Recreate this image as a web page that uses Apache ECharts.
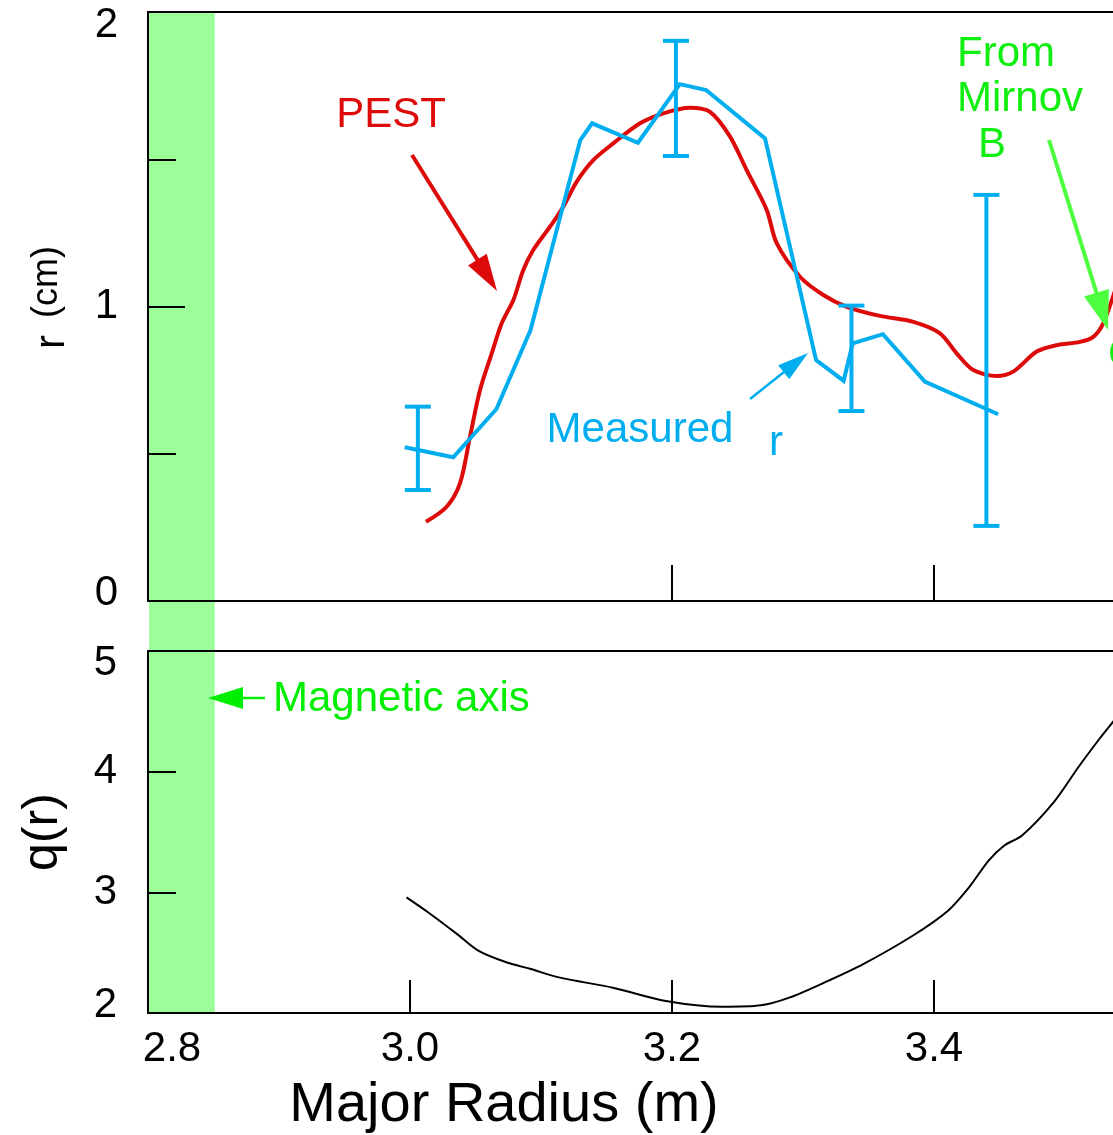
<!DOCTYPE html>
<html>
<head>
<meta charset="utf-8">
<script src="https://cdn.jsdelivr.net/npm/echarts@6/dist/echarts.min.js"></script>
<style>
html,body{margin:0;padding:0;background:#ffffff;}
#chart{width:1113px;height:1135px;}
</style>
</head>
<body>
<div id="chart"></div>
<script>
// ---------------- data ----------------
// PEST computed island width r(cm) vs major radius (m)
const pestR = [
  [3.0122,0.269],[3.0280,0.320],[3.0382,0.400],[3.0458,0.558],[3.0534,0.716],
  [3.0624,0.841],[3.0700,0.943],[3.0789,1.022],[3.0865,1.124],[3.0941,1.192],
  [3.1069,1.271],[3.1170,1.339],[3.1273,1.424],[3.1399,1.497],[3.1552,1.554],
  [3.1756,1.622],[3.1934,1.656],[3.2137,1.675],[3.2290,1.661],[3.2443,1.577],
  [3.2570,1.463],[3.2723,1.328],[3.2799,1.215],[3.2977,1.101],[3.3155,1.039],
  [3.3334,0.999],[3.3588,0.968],[3.3842,0.948],[3.4046,0.909],[3.4173,0.841],
  [3.4300,0.784],[3.4479,0.764],[3.4605,0.779],[3.4784,0.847],[3.4937,0.869],
  [3.5115,0.880],[3.5216,0.897],[3.5292,0.943],[3.5366,1.033],[3.5458,1.158]
];
// Measured r (cm)
const measuredR = [
  [2.996,0.522],[3.033,0.488],[3.066,0.652],[3.092,0.920],[3.130,1.565],
  [3.139,1.622],[3.174,1.556],[3.206,1.755],[3.226,1.735],[3.271,1.571],
  [3.310,0.818],[3.331,0.748],[3.338,0.875],[3.361,0.906],[3.393,0.745],
  [3.449,0.634]
];
// Error bars on measured r: [R, low, high]
const measuredErr = [
  [3.006,0.377,0.660],
  [3.203,1.511,1.902],
  [3.337,0.645,1.003],
  [3.440,0.255,1.379]
];
// Safety factor profile q(r)
const qProfile = [
  [2.9973,2.958],[3.0153,2.823],[3.0360,2.654],[3.0524,2.515],[3.0741,2.418],
  [3.0916,2.366],[3.1145,2.293],[3.1549,2.210],[3.1953,2.100],[3.2384,2.052],
  [3.2679,2.064],[3.2895,2.127],[3.3191,2.266],[3.3460,2.405],[3.3837,2.640],
  [3.4107,2.848],[3.4267,3.041],[3.4417,3.263],[3.4537,3.388],[3.4672,3.471],
  [3.4915,3.748],[3.5103,4.039],[3.5265,4.275],[3.5366,4.413],[3.5458,4.543]
];
// Magnetic axis band (R range, m)
const magneticAxisBand = [[2.800, 2.851]];
// Axis ticks / labels
const xLabelValues = [2.8, 3.0, 3.2, 3.4];
const xTicksTop = [3.2, 3.4];
const xTicksBottom = [3.0, 3.2, 3.4];
const rLabelValues = [0, 1, 2];
const qLabelValues = [2, 3, 4, 5];

// ---------------- styles ----------------
const FONT = '"Liberation Sans", Arial, Helvetica, sans-serif';
const CYAN = '#00aeef', RED = '#dd0a0a', GREEN = '#11ee11', ARROW_GREEN = '#4dff3f', BAND = '#9dff99';
const X_MIN = 2.8, X_MAX = 3.56;
const G_LEFT = 148, G_WIDTH = 995.6;

const chart = echarts.init(document.getElementById('chart'), null, {renderer: 'canvas'});

function yLabelFmt(maxV, minV) {
  return function (v) {
    if (v === maxV) return '{hi|' + v + '}';
    if (v === minV) return '{lo|' + v + '}';
    return '{n|' + v + '}';
  };
}
function yRich(hiPad, loPad) {
  const base = {fontSize: 42, fontFamily: FONT, color: '#000'};
  return {
    n: Object.assign({}, base),
    hi: Object.assign({padding: [hiPad, 0, 0, 0]}, base),
    lo: Object.assign({padding: [0, 0, loPad, 0]}, base)
  };
}

function arrow(x1, y1, x2, y2, len, half, w, color) {
  const dx = x2 - x1, dy = y2 - y1, L = Math.hypot(dx, dy);
  const ux = dx / L, uy = dy / L;
  const bx = x2 - ux * len, by = y2 - uy * len;
  const px = -uy, py = ux;
  return [
    {type: 'line', z: 100, shape: {x1: x1, y1: y1, x2: bx + ux * 2, y2: by + uy * 2},
     style: {stroke: color, lineWidth: w}},
    {type: 'polygon', z: 100,
     shape: {points: [[x2, y2], [bx + px * half, by + py * half], [bx - px * half, by - py * half]]},
     style: {fill: color}}
  ];
}
function txt(text, x, y, color, size, align, rot) {
  return {
    type: 'text', z: 100, x: x, y: y, rotation: rot || 0,
    style: {text: text, fill: color, font: size + 'px ' + FONT,
            align: align || 'center', verticalAlign: 'middle',
            textAlign: align || 'center', textVerticalAlign: 'middle'}
  };
}

const axisLineStyle = {color: '#000', width: 2};

const option = {
  animation: false,
  backgroundColor: '#ffffff',
  grid: [
    {left: G_LEFT, top: 12, width: G_WIDTH, height: 589, show: true, borderColor: '#000', borderWidth: 2,
     backgroundColor: 'transparent', outerBoundsMode: 'none', containLabel: false},
    {left: G_LEFT, top: 651, width: G_WIDTH, height: 362, show: true, borderColor: '#000', borderWidth: 2,
     backgroundColor: 'transparent', outerBoundsMode: 'none', containLabel: false},
    {left: G_LEFT, top: 12, width: G_WIDTH, height: 1001, show: false, outerBoundsMode: 'none', containLabel: false}
  ],
  xAxis: [
    {gridIndex: 0, type: 'value', min: X_MIN, max: X_MAX,
     axisLine: {show: true, onZero: false, lineStyle: axisLineStyle},
     axisTick: {show: true, inside: true, length: 36, customValues: xTicksTop, lineStyle: axisLineStyle},
     axisLabel: {show: false}, splitLine: {show: false}},
    {gridIndex: 1, type: 'value', min: X_MIN, max: X_MAX,
     axisLine: {show: true, onZero: false, lineStyle: axisLineStyle},
     axisTick: {show: true, inside: true, length: 33, customValues: xTicksBottom, lineStyle: axisLineStyle},
     axisLabel: {show: true, customValues: xLabelValues, margin: 15, hideOverlap: false,
       fontSize: 42, fontFamily: FONT, color: '#000',
       formatter: function (v) { return v === X_MIN ? '{first|' + v.toFixed(1) + '}' : '{n|' + v.toFixed(1) + '}'; },
       rich: {
         n: {fontSize: 42, fontFamily: FONT, color: '#000'},
         first: {fontSize: 42, fontFamily: FONT, color: '#000', padding: [0, 0, 10, 48]}
       }},
     splitLine: {show: false}},
    {gridIndex: 2, type: 'value', min: X_MIN, max: X_MAX, show: false}
  ],
  yAxis: [
    {gridIndex: 0, type: 'value', min: 0, max: 2, interval: 1,
     axisLine: {show: true, onZero: false, lineStyle: axisLineStyle},
     axisTick: {show: true, inside: true, length: 37, lineStyle: axisLineStyle},
     minorTick: {show: true, splitNumber: 2, length: 28, lineStyle: axisLineStyle},
     axisLabel: {show: true, margin: 30, fontSize: 42, fontFamily: FONT, color: '#000',
       customValues: rLabelValues,
       formatter: yLabelFmt(2, 0), rich: yRich(26, 16)},
     splitLine: {show: false}, minorSplitLine: {show: false}},
    {gridIndex: 1, type: 'value', min: 2, max: 5, interval: 1,
     axisLine: {show: true, onZero: false, lineStyle: axisLineStyle},
     axisTick: {show: true, inside: true, length: 28, lineStyle: axisLineStyle},
     axisLabel: {show: true, margin: 31, fontSize: 42, fontFamily: FONT, color: '#000',
       customValues: qLabelValues,
       formatter: yLabelFmt(5, 2), rich: yRich(24, 16)},
     splitLine: {show: false}},
    {gridIndex: 2, type: 'value', min: 0, max: 1, show: false}
  ],
  series: [
    {
      name: 'Magnetic axis band', type: 'custom', xAxisIndex: 2, yAxisIndex: 2, z: -5,
      silent: true, clip: false,
      data: magneticAxisBand,
      encode: {x: [0, 1]},
      renderItem: function (params, api) {
        const p1 = api.coord([api.value(0), 1]);
        const p2 = api.coord([api.value(1), 0]);
        return {type: 'rect', shape: {x: p1[0] + 1, y: p1[1], width: p2[0] - p1[0] - 1, height: p2[1] - p1[1]},
                style: {fill: BAND}};
      }
    },
    {
      name: 'PEST', type: 'line', xAxisIndex: 0, yAxisIndex: 0, data: pestR,
      showSymbol: false, smooth: 0.3, clip: true, z: 3,
      lineStyle: {color: RED, width: 4}
    },
    {
      name: 'Measured', type: 'line', xAxisIndex: 0, yAxisIndex: 0, data: measuredR,
      showSymbol: false, smooth: false, clip: true, z: 4,
      lineStyle: {color: CYAN, width: 4, join: 'miter'}
    },
    {
      name: 'Measured error', type: 'custom', xAxisIndex: 0, yAxisIndex: 0, data: measuredErr, z: 4,
      encode: {x: 0, y: [1, 2]},
      renderItem: function (params, api) {
        const x = api.value(0);
        const lo = api.coord([x, api.value(1)]);
        const hi = api.coord([x, api.value(2)]);
        const hw = 13;
        const st = {stroke: CYAN, lineWidth: 4};
        return {type: 'group', children: [
          {type: 'line', shape: {x1: lo[0], y1: lo[1], x2: hi[0], y2: hi[1]}, style: st},
          {type: 'line', shape: {x1: lo[0] - hw, y1: lo[1], x2: lo[0] + hw, y2: lo[1]}, style: st},
          {type: 'line', shape: {x1: hi[0] - hw, y1: hi[1], x2: hi[0] + hw, y2: hi[1]}, style: st}
        ]};
      }
    },
    {
      name: 'q(r)', type: 'line', xAxisIndex: 1, yAxisIndex: 1, data: qProfile,
      showSymbol: false, smooth: 0.3, clip: true, z: 3,
      lineStyle: {color: '#000', width: 2}
    }
  ],
  graphic: {elements: [].concat(
    arrow(412, 155, 497, 291, 37, 11, 4, RED),
    arrow(750, 399, 808, 353, 31, 9, 2.5, CYAN),
    arrow(1049, 140, 1108, 330, 39, 13, 4, ARROW_GREEN),
    arrow(265, 698, 208, 698, 35, 11, 2.5, '#00ee00'),
    [
      txt('PEST', 391, 115, RED, 42),
      txt('Measured', 640, 430, CYAN, 42),
      txt('r', 776, 443, CYAN, 42),
      txt('From', 957, 54, GREEN, 42, 'left'),
      txt('Mirnov', 957, 99, GREEN, 42, 'left'),
      txt('B', 992, 145, GREEN, 42),
      txt('C', 1108, 355, GREEN, 42, 'left'),
      txt('Magnetic axis', 273, 699, '#00ee00', 42, 'left'),
      txt('Major Radius (m)', 504, 1106, '#000', 56),
      txt('q(r)', 43, 832, '#000', 50, 'center', Math.PI / 2),
      txt('r', 52, 342, '#000', 42, 'center', Math.PI / 2),
      txt('(cm)', 47, 282, '#000', 36, 'center', Math.PI / 2)
    ]
  )}
};

chart.setOption(option);
</script>
</body>
</html>
